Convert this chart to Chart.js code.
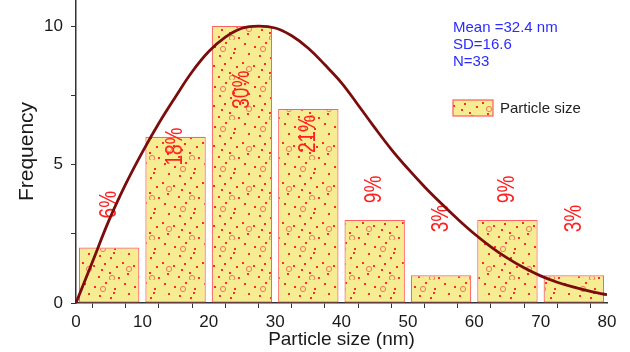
<!DOCTYPE html>
<html>
<head>
<meta charset="utf-8">
<script src="https://cdn.jsdelivr.net/npm/chart.js@4/dist/chart.umd.min.js"></script>
<style>
  html, body { margin: 0; padding: 0; background: #fff; }
</style>
</head>
<body>
<canvas id="histChart" width="630" height="352"></canvas>
<script>
// histogram bins (nm) and counts
const binCenters = [5, 15, 25, 35, 45, 55, 65, 75];
const counts = [2, 6, 10, 7, 3, 1, 3, 1];
const percentLabels = ['6%', '18%', '30%', '21%', '9%', '3%', '9%', '3%'];
const percentLabelY = [3.55, 5.65, 7.7, 6.1, 4.1, 3.05, 4.1, 3.05];

// fitted distribution curve
const fitX = [0, 2.5, 5, 7.5, 10, 12.5, 15, 17.5, 20, 22.5, 25, 27.5, 30, 32.5, 35, 37.5, 40,
              42.5, 45, 47.5, 50, 52.5, 55, 57.5, 60, 62.5, 65, 67.5, 70, 72.5, 75, 77.5, 80];
const fitY = [0, 1.5, 3.0, 4.3, 5.45, 6.5, 7.45, 8.35, 9.08, 9.6, 9.92, 10.0, 9.93, 9.65, 9.2, 8.6, 7.95,
              7.15, 6.33, 5.55, 4.85, 4.2, 3.6, 3.03, 2.5, 2.03, 1.62, 1.27, 0.98, 0.75, 0.57, 0.42, 0.3];

const statsLines = ['Mean =32.4 nm', 'SD=16.6', 'N=33'];
const legendLabel = 'Particle size';

const FONT = "'Liberation Sans', Arial, sans-serif";

// dotted yellow fill like the original
function makePattern() {
  const c = document.createElement('canvas');
  c.width = 40; c.height = 40;
  const g = c.getContext('2d');
  g.fillStyle = 'rgb(246,236,146)';
  g.fillRect(0, 0, 40, 40);
  g.fillStyle = '#ff2a2a';
  const dots = [[4,3],[14,6],[25,2],[34,8],[8,13],[19,15],[30,17],[2,22],[13,25],[24,23],
                [36,26],[7,33],[18,36],[29,32],[38,37],[21,29],[33,12]];
  for (const d of dots) {
    g.fillRect(d[0], d[1], 2, 2);
  }
  g.strokeStyle = '#f07a5a';
  g.lineWidth = 1;
  for (const p of [[23,9],[9,29],[32,38]]) {
    g.beginPath();
    g.arc(p[0], p[1], 2.6, 0, Math.PI * 2);
    g.stroke();
  }
  return g.createPattern(c, 'repeat');
}
const dotted = makePattern();

const barData = binCenters.map((x, i) => ({ x: x, y: counts[i] }));
const fitData = fitX.map((x, i) => ({ x: x, y: fitY[i] }));

const overlay = {
  id: 'overlay',
  afterDatasetDraw(chart, args) {
    if (args.index !== 0) return;
    const ctx = chart.ctx;
    const xs = chart.scales.x, ys = chart.scales.y;
    ctx.save();
    ctx.fillStyle = '#ff1f1f';
    ctx.font = '19px ' + FONT;
    ctx.textAlign = 'center';
    ctx.textBaseline = 'middle';
    percentLabels.forEach((t, i) => {
      ctx.save();
      ctx.translate(xs.getPixelForValue(binCenters[i]), ys.getPixelForValue(percentLabelY[i]));
      ctx.rotate(-Math.PI / 2);
      ctx.scale(1, 1.3);
      ctx.fillText(t, 0, 0);
      ctx.restore();
    });
    ctx.restore();
  },
  afterDraw(chart) {
    const ctx = chart.ctx;
    ctx.save();
    ctx.font = '15px ' + FONT;
    ctx.fillStyle = '#2b2bff';
    ctx.textAlign = 'left';
    ctx.textBaseline = 'middle';
    statsLines.forEach((t, i) => ctx.fillText(t, 453, 28 + i * 17));
    // legend
    ctx.fillStyle = dotted;
    ctx.fillRect(453, 100, 40, 16);
    ctx.strokeStyle = '#ff5a5a';
    ctx.lineWidth = 1.2;
    ctx.strokeRect(453, 100, 40, 16);
    ctx.fillStyle = '#222';
    ctx.fillText(legendLabel, 500, 108.5);
    ctx.restore();
  }
};

new Chart(document.getElementById('histChart'), {
  type: 'bar',
  data: {
    datasets: [{
      type: 'bar',
      label: legendLabel,
      data: barData,
      backgroundColor: dotted,
      borderColor: '#ff6262',
      borderWidth: 1.2,
      borderSkipped: false,
      barPercentage: 1.82,
      categoryPercentage: 1,
      order: 1
    }, {
      type: 'line',
      label: 'fit',
      data: fitData,
      borderColor: '#7b0c0c',
      borderWidth: 2.8,
      pointRadius: 0,
      tension: 0.4,
      fill: false,
      order: 0
    }]
  },
  options: {
    responsive: false,
    animation: false,
    devicePixelRatio: 1,
    layout: { padding: { top: 0, right: 23, left: 0, bottom: 0 } },
    plugins: { legend: { display: false }, tooltip: { enabled: false } },
    scales: {
      x: {
        type: 'linear',
        min: 0, max: 80,
        offset: false,
        afterFit(s) { s.height = 49; s.paddingLeft = 0; s.paddingRight = 0; },
        border: { color: '#333', width: 1.5 },
        grid: { drawOnChartArea: false, tickLength: 5, tickColor: '#333' },
        ticks: {
          stepSize: 5,
          autoSkip: false,
          maxRotation: 0,
          padding: 4,
          color: '#1a1a1a',
          font: { family: FONT, size: 17 },
          callback: v => (v % 10 === 0 ? v : '')
        },
        title: {
          display: true,
          text: 'Particle size (nm)',
          color: '#1a1a1a',
          font: { family: FONT, size: 19 },
          padding: { top: 0, bottom: 1 }
        }
      },
      y: {
        min: 0, max: 10.94,
        afterFit(s) { s.width = 76; s.paddingTop = 0; s.paddingBottom = 0; },
        border: { color: '#333', width: 1.5 },
        grid: { drawOnChartArea: false, tickLength: 5, tickColor: '#333' },
        ticks: {
          stepSize: 2.5,
          includeBounds: false,
          padding: 8,
          color: '#1a1a1a',
          font: { family: FONT, size: 17 },
          callback: v => (v % 5 === 0 ? v : '')
        },
        title: {
          display: true,
          text: 'Frequency',
          color: '#1a1a1a',
          font: { family: FONT, size: 21 },
          padding: { top: 15, bottom: 0 }
        }
      }
    }
  },
  plugins: [overlay]
});
</script>
</body>
</html>
